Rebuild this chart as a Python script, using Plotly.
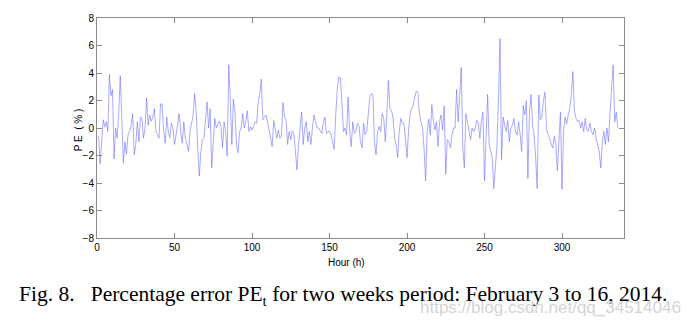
import plotly.graph_objects as go

# Hourly percentage error PE_t (%), Feb 3 - Feb 16, 2014 (336 hours)
pe_values = [
    -0.6, -2.6, -1.0, 0.6, 0.1, 0.45, -0.25, 3.9, 2.35, 2.8, -2.25, 0.0,
    -0.75, 1.0, 3.8, 0.9, -2.55, -1.0, -1.9, -0.5, -0.25, 0.2, 1.05, -1.95,
    -1.2, 0.45, -1.0, 0.8, 0.7, -0.75, 0.0, 2.2, 0.2, 0.95, 0.5, 0.8,
    1.4, -0.25, -0.5, -0.75, 1.75, 1.75, -0.25, -1.1, 0.8, -0.25, -0.7, 0.35,
    0.0, -1.2, -0.5, 0.4, 1.05, -0.25, -1.1, 0.45, -0.75, -1.2, -1.7, -0.25,
    0.3, 0.95, 2.5, 1.15, -1.45, -3.5, -1.7, -0.85, -0.75, 0.7, 1.9, 0.0,
    1.4, -2.9, -1.0, 0.7, 0.0, 0.2, 0.5, 0.1, -1.45, 0.45, -0.25, -2.05,
    4.6, 2.1, -1.2, 2.1, 1.15, -1.2, -1.8, -0.25, 0.0, 1.05, 0.0, 0.45,
    1.25, -0.25, 0.1, -0.15, 0.2, 0.45, 0.35, 1.9, 2.5, 3.55, 0.6, 0.8,
    0.95, 0.45, -0.25, -0.7, -1.35, 0.55, 0.0, -0.75, -0.15, -0.75, -0.6, 1.85,
    0.8, 0.55, -1.2, -0.25, -0.85, -0.2, -0.4, -2.05, -3.05, -1.2, 0.0, 1.15,
    -1.2, 0.0, 0.45, -1.0, -0.25, -1.2, 0.0, 0.95, 0.45, 0.0, 0.0, -0.25,
    -0.4, 0.35, 0.8, -0.4, -0.25, -0.25, -0.5, -1.0, -1.55, 0.9, 2.85, 3.7,
    3.65, 1.9, -0.25, 0.0, -0.5, 2.25, -0.25, -1.35, 0.45, -0.4, -0.25, 0.35,
    0.2, -1.0, -1.45, 0.35, -0.5, -0.25, 1.05, 2.25, 2.5, 2.45, -1.0, -1.95,
    -0.25, 0.1, -0.25, 1.05, 0.7, -1.0, 0.95, 3.45, 1.4, 1.3, 0.7, -0.75,
    -1.2, -2.15, -0.25, 0.7, 0.35, 0.35, -0.75, -2.15, -0.25, 1.05, 1.4, 1.65,
    2.25, 2.7, 2.6, 1.05, 0.45, 0.0, -1.45, -3.85, -0.25, 0.65, -0.5, 1.7,
    0.55, -0.15, 0.45, -1.35, 0.45, 0.95, -0.15, 1.6, -3.35, -0.85, -1.0, -1.45,
    -0.5, 0.0, 0.0, 2.8, 0.45, 2.1, 4.4, -1.45, -2.9, 1.05, 0.45, -0.15,
    -0.85, 0.0, -0.25, 0.0, 0.55, 0.35, -0.75, 0.55, 1.15, -3.85, -0.5, 2.45,
    -1.2, -1.7, -2.15, -4.4, -3.1, -1.35, 2.1, 6.5, -2.3, 0.8, 0.2, -0.25,
    0.55, -1.0, 0.0, 0.2, 0.7, -0.25, -0.5, 0.45, -0.5, -1.7, 1.65, 0.95,
    2.0, -3.65, 1.15, 2.45, 0.2, -0.5, -2.15, -4.4, 2.4, 0.6, 0.8, 2.0,
    2.6, 0.0, -0.5, -0.75, -1.2, -1.45, -0.6, -1.2, -3.1, -0.95, 1.15, -4.45,
    -0.25, 0.8, 0.3, 0.95, 1.4, 2.35, 4.1, 1.3, 0.7, 0.45, 0.55, 0.0,
    0.45, -0.25, 0.7, -0.15, -0.25, 0.35, -0.25, -0.5, 0.0, -0.75, -1.2, -1.7,
    -2.9, -1.0, -0.25, -1.2, 0.0, -1.0, 1.15, 3.3, 4.6, 0.45, 1.15, 0.0,
]
hours = list(range(1, len(pe_values) + 1))

x_ticks = [0, 50, 100, 150, 200, 250, 300]
y_ticks = [-8, -6, -4, -2, 0, 2, 4, 6, 8]

caption = "Fig. 8.   Percentage error PE<sub>t</sub> for two weeks period: February 3 to 16, 2014."
watermark = "https://blog.csdn.net/qq_34514046"

tick_font = dict(family="Liberation Sans Narrow, Arial Narrow, Liberation Sans, Arial", size=10, color="#000000")
axis_color = "#8a8a8a"

fig = go.Figure()
fig.add_trace(go.Scatter(
    x=hours, y=pe_values, mode="lines",
    line=dict(color="rgb(110,110,255)", width=0.6),
    hoverinfo="skip", showlegend=False,
))

fig.update_xaxes(
    range=[0, 340], tickvals=x_ticks, ticks="inside", ticklen=5, tickwidth=1,
    tickcolor=axis_color, showline=True, linecolor=axis_color, linewidth=1,
    mirror="ticks", showgrid=False, zeroline=False, tickfont=tick_font,
)
fig.update_yaxes(
    range=[-8, 8], tickvals=y_ticks, ticks="inside", ticklen=5, tickwidth=1,
    tickcolor=axis_color, showline=True, linecolor=axis_color, linewidth=1,
    mirror="ticks", showgrid=False, zeroline=False, tickfont=tick_font,
)

annotations = [
    dict(text="Hour (h)", x=0.474, y=-0.112, xref="paper", yref="paper",
         xanchor="center", yanchor="middle", showarrow=False, font=tick_font),
    dict(text="P E  ( % )", x=-0.036, y=0.49, xref="paper", yref="paper",
         xanchor="center", yanchor="middle", textangle=-90, showarrow=False, font=tick_font),
    dict(text=caption, x=-0.152, y=-0.262, xref="paper", yref="paper",
         xanchor="left", yanchor="middle", showarrow=False,
         font=dict(family="Liberation Serif, Times New Roman, serif", size=21.5, color="#000000")),
    dict(text=watermark, x=1.112, y=-0.315, xref="paper", yref="paper",
         xanchor="right", yanchor="middle", showarrow=False,
         font=dict(family="Liberation Sans, Arial", size=17, color="#d4d4d4")),
]

fig.update_layout(
    width=688, height=326,
    margin=dict(l=97, r=64, t=14, b=88),
    paper_bgcolor="white", plot_bgcolor="white",
    annotations=annotations,
)

fig.write_html("out.html")
